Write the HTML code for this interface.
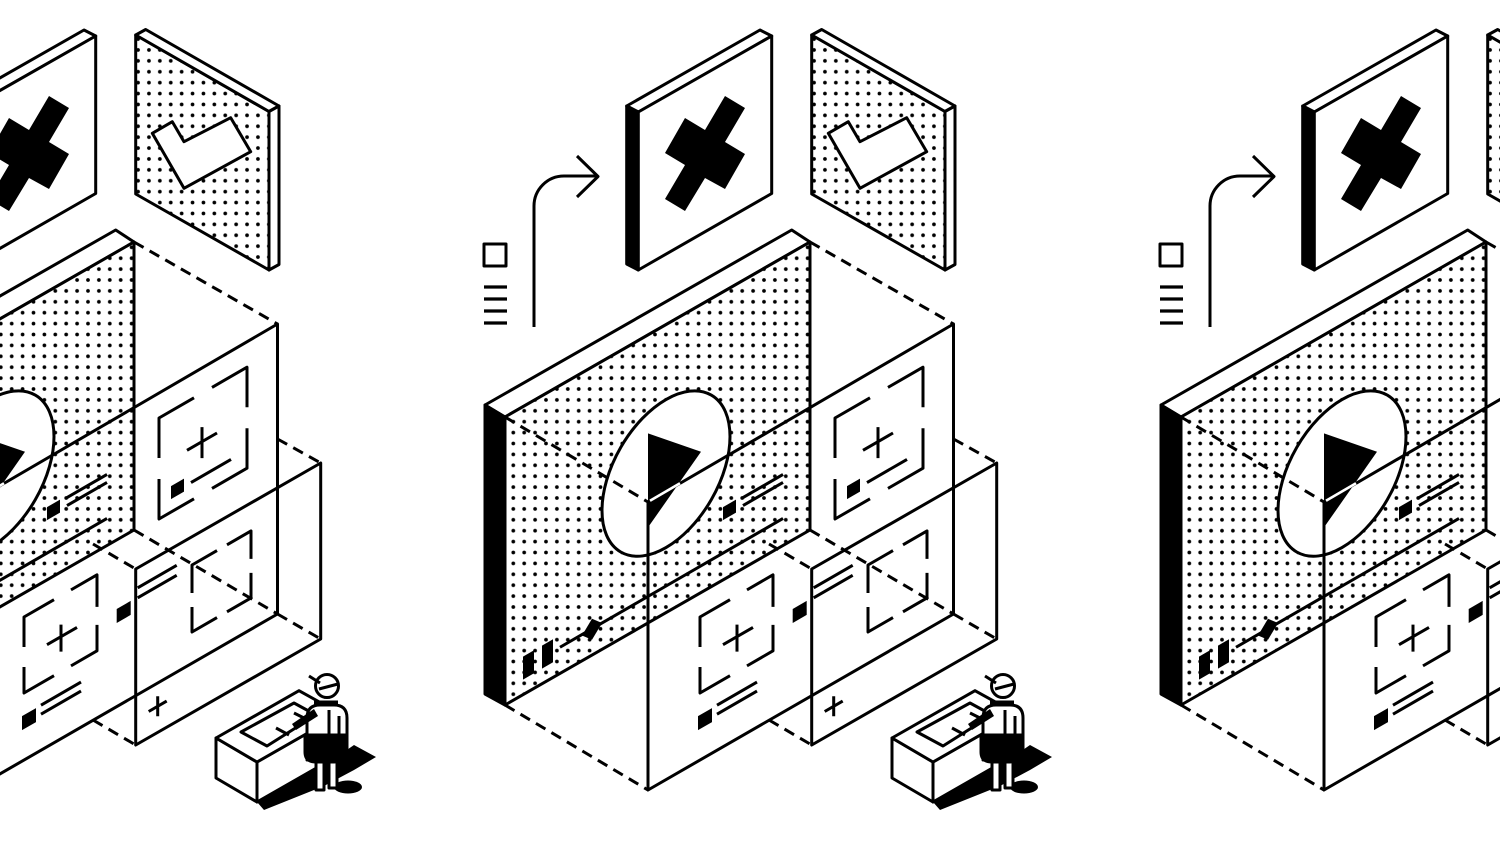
<!DOCTYPE html>
<html><head><meta charset="utf-8"><style>
html,body{margin:0;padding:0;background:#fff;}
svg{display:block}
</style></head><body>
<svg width="1500" height="844" viewBox="0 0 1500 844" xmlns="http://www.w3.org/2000/svg">
<defs>
<pattern id="d1" patternUnits="userSpaceOnUse" x="507.85" y="416.25" width="10.9" height="10.9"><circle cx="5.45" cy="5.45" r="1.85" fill="#000"/></pattern>
<pattern id="d2" patternUnits="userSpaceOnUse" x="819.5" y="44.5" width="10.9" height="10.9"><circle cx="5.45" cy="5.45" r="1.85" fill="#000"/></pattern>
<g id="u" fill="none" stroke="#000" stroke-width="3" stroke-linejoin="round">
  <!-- arrow + icons -->
  <path d="M534,327 V206 A30,30 0 0 1 564,176 H597"/>
  <path d="M577,156 L598,176.5 L577,197"/>
  <rect x="484" y="244" width="22" height="22"/>
  <path d="M484,287H507M484,299H507M484,311H507M484,323H507" stroke-width="3.2"/>

  <!-- X panel -->
  <polygon points="626.7,106 760,30 771.7,36 638.3,112" fill="#fff"/>
  <polygon points="626.7,106 638.3,112 638.3,270 626.7,264" fill="#000"/>
  <polygon points="638.3,112 771.7,36 771.7,193.5 638.3,270" fill="#fff"/>
  <polygon points="725,96 745,108 725,142 745,154 725,189 705,178 685,211 665,199 685,165 665,153 685,118 705,130" fill="#000" stroke="none"/>

  <!-- check panel -->
  <polygon points="811.7,35 945,111.5 945,270 811.7,194" fill="#fff" stroke="none"/>
  <polygon points="811.7,35 945,111.5 945,270 811.7,194" fill="url(#d2)"/>
  <polygon points="811.7,35 821.7,29.5 955,106 945,111.5" fill="#fff"/>
  <polygon points="945,111.5 955,106 955,264.5 945,270" fill="#fff"/>
  <polygon points="828.3,133.3 848.3,121.7 860,141.7 906.7,117.7 926.7,151.7 860,188.3" fill="#fff"/>

  <!-- big video panel -->
  <polygon points="485,405 791.7,230 810,242 505,417" fill="#fff"/>
  <polygon points="485,405 505,417 505,705 485,694" fill="#000"/>
  <polygon points="505,417 810,242 810,530 505,705" fill="#fff" stroke="none"/>
  <polygon points="505,417 810,242 810,530 505,705" fill="url(#d1)"/>
  <ellipse cx="161" cy="149.5" rx="64" ry="74" transform="matrix(1,-0.5774,0,1,505,417)" fill="#fff" vector-effect="non-scaling-stroke"/>
  <g transform="matrix(1,-0.5774,0,1,505,417)">
    <rect x="218" y="216" width="13" height="13" fill="#000" stroke="none"/>
    <path d="M238,218H278M238,226H278M55,262H278" vector-effect="non-scaling-stroke"/>
    <polygon points="77,263 87,252 97,262 87,273" fill="#000" stroke="none"/>
    <rect x="18" y="250" width="11" height="23" fill="#000" stroke="none"/>
    <rect x="37" y="250" width="11" height="23" fill="#000" stroke="none"/>
  </g>

  <!-- dashed connectors -->
  <g stroke-dasharray="11 7">
    <path d="M505,417 L648,502"/>
    <path d="M810,242 L953.5,324"/>
    <path d="M505,705 L648,790"/>
    <path d="M810,530 L953.5,614"/>
    <path d="M769,544 L811.7,569"/>
    <path d="M953.5,439 L996.7,463"/>
    <path d="M769,720 L811.7,745"/>
    <path d="M953.5,614 L996.7,639"/>
  </g>

  <!-- frames -->
  <polygon points="648,502 953.5,324 953.5,614 648,790"/>
  <polygon points="811.7,569 996.7,463 996.7,639 811.7,745"/>

  <!-- play triangle -->
  <polygon points="648,433.4 701,451.8 648,527.4" fill="#000" stroke="none"/>
  <path d="M650,500.8 L680,483.3" stroke="#fff" stroke-width="2.6"/>

  <!-- frame 1 upper bracket -->
  <g transform="matrix(1,-0.5774,0,1,835,418)">
    <path d="M0,40V0H35M53,0H88V40M88,61V101H53M35,101H0V61M28,48.5H58M43,34V65M32,83H72" vector-effect="non-scaling-stroke"/>
    <rect x="12" y="75" width="13" height="13" fill="#000" stroke="none"/>
  </g>
  <!-- frame 1 lower bracket -->
  <g transform="matrix(1,-0.5774,0,1,700,617)">
    <path d="M0,30V0H30M47,0H73V32M73,50V76H47M30,76H0V50M23,41H53M37,29V56M17,98H57M17,107H57" vector-effect="non-scaling-stroke"/>
    <rect x="-2" y="98" width="14" height="14" fill="#000" stroke="none"/>
  </g>
  <!-- frame 2 content -->
  <g transform="matrix(1,-0.5774,0,1,811.7,569)">
    <path d="M2,20H41M2,30H41M13,150H31M22,140V160" vector-effect="non-scaling-stroke"/>
    <rect x="-19" y="29" width="14" height="14" fill="#000" stroke="none"/>
  </g>
  <g transform="matrix(1,-0.5774,0,1,868,565)">
    <path d="M0,28V0H25M35,0H59V28M59,42V67H35M25,67H0V42" vector-effect="non-scaling-stroke"/>
  </g>

  <!-- shadow -->
  <polygon points="933,802 1017,754 1030,745 1052,757 1030,770 1000,786 940,810" fill="#000" stroke="none"/>
  <ellipse cx="1024" cy="787" rx="14" ry="6.5" fill="#000" stroke="none"/>

  <!-- desk -->
  <polygon points="892,738 933,762 933,802 892,778" fill="#fff"/>
  <polygon points="933,762 1017,714 1017,754 933,802" fill="#fff"/>
  <polygon points="892,738 975,690.7 1017,714 933,762" fill="#fff"/>
  <polygon points="917,732 970,703 992,715 943,746" fill="#fff"/>
  <path d="M952,728 L965,735 M970,713 L980,718"/>

  <!-- person -->
  <rect x="992" y="758" width="8" height="32" fill="#fff"/>
  <rect x="1005" y="758" width="8" height="30" fill="#fff"/>
  <path d="M983,760 V718 Q983,705 996,705 H1010 Q1023,705 1023,718 V748 Q1023,760 1010,760 Z" fill="#fff"/>
  <path d="M981,735 H1022 V752 Q1022,762 1010,762 H992 Q981,762 981,752 Z" fill="#000"/>
  <path d="M1005,710 V738 Q1005,744 1010,744 Q1015,744 1015,738 V716"/>
  <polygon points="968,724 990,709 994,716 972,730" fill="#000" stroke="none"/>
  <path d="M990,703 H1014" stroke-width="5"/>
  <circle cx="1003" cy="686" r="11.5" fill="#fff"/>
  <path d="M985,676 L996,683 M995,689 L1014,684"/>
</g>
</defs>
<rect width="1500" height="844" fill="#fff"/>
<use href="#u" x="-676"/>
<use href="#u"/>
<use href="#u" x="676"/>
</svg>
</body></html>
